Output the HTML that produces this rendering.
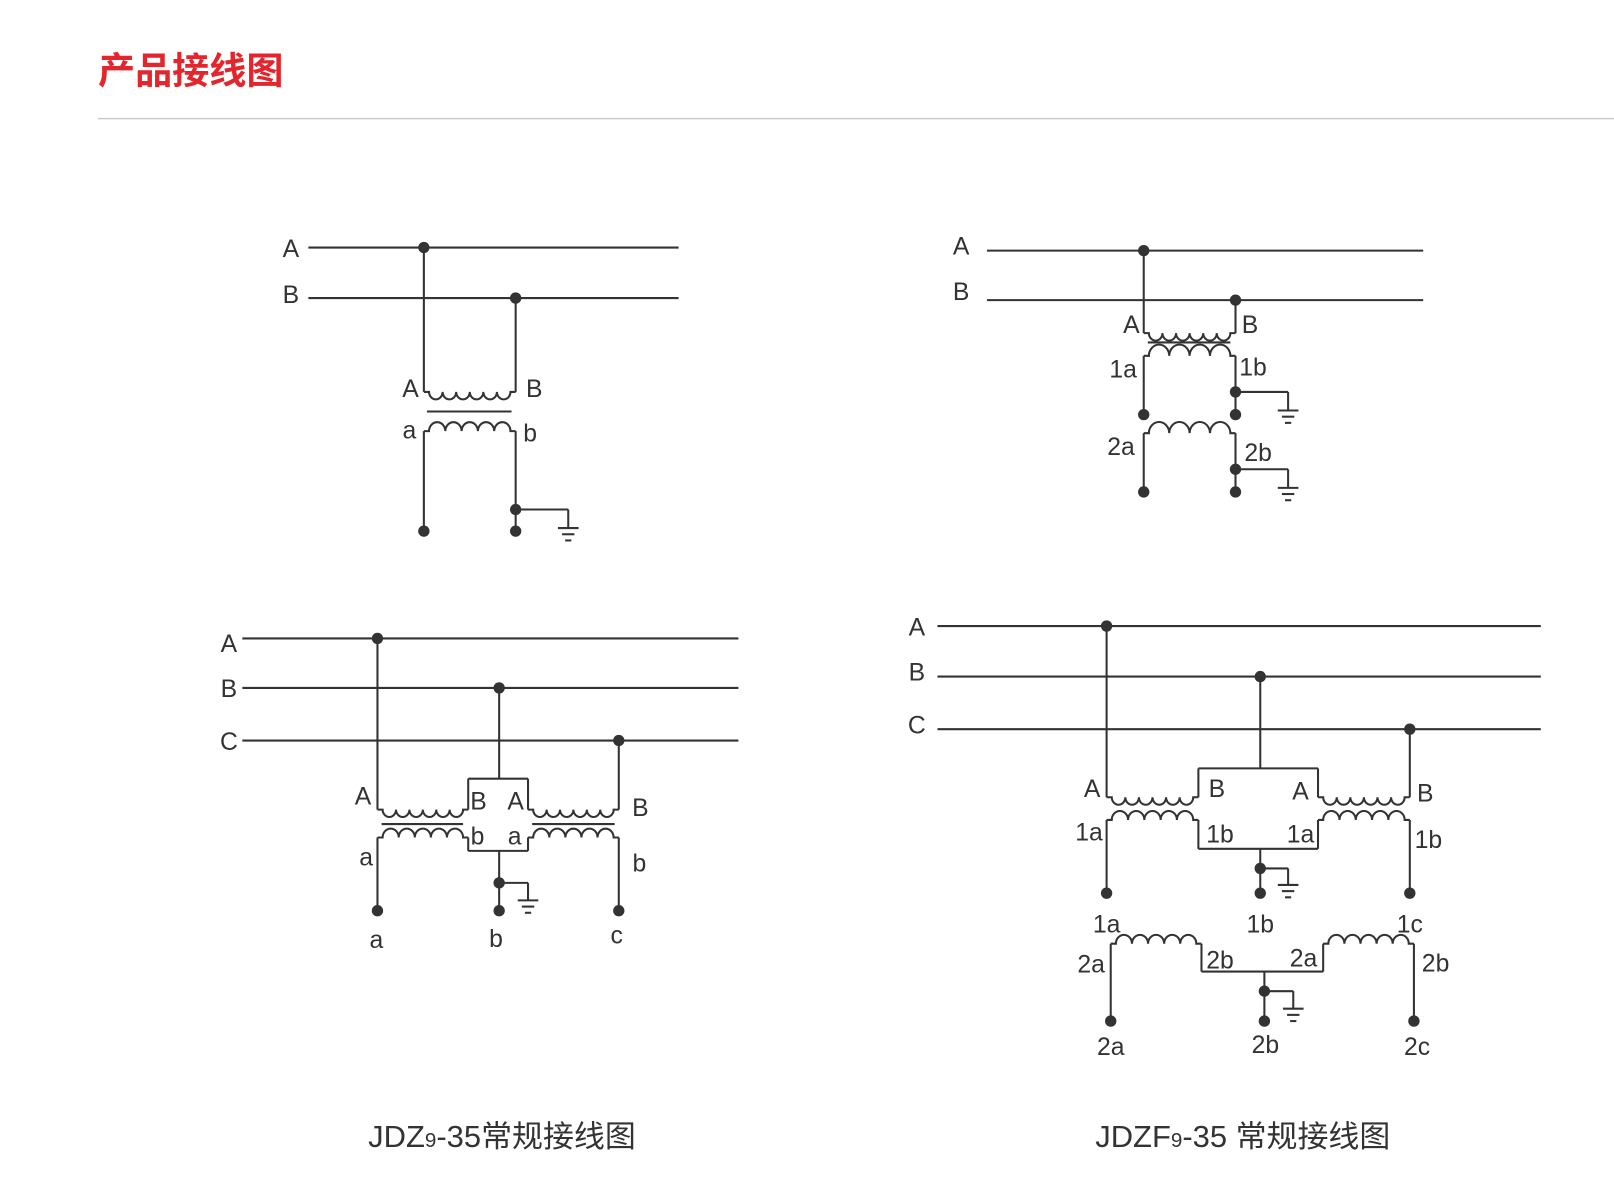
<!DOCTYPE html>
<html><head><meta charset="utf-8">
<style>
html,body{margin:0;padding:0;background:#fff;}
svg{display:block;}
text{font-family:"Liberation Sans","Noto Sans CJK SC",sans-serif;fill:#333;}
</style></head>
<body>
<svg id="s" width="1614" height="1183" viewBox="0 0 1565 1147" preserveAspectRatio="none" xmlns="http://www.w3.org/2000/svg">
<rect width="1565" height="1147" fill="#fff"/>
<text x="95" y="81" font-size="36" font-weight="bold" style="fill:#e3262e" font-family="Liberation Sans, Noto Sans CJK SC, sans-serif">产品接线图</text>
<line x1="95" y1="115" x2="1565" y2="115" stroke="#ccc" stroke-width="1.5"/>
<g id="g" stroke="#333" stroke-width="2" fill="none"></g>
<g id="t" font-size="24"></g>
<text x="357" y="1112" font-size="30">JDZ<tspan font-size="20">9</tspan>-35常规接线图</text>
<text x="1062" y="1112" font-size="30">JDZF<tspan font-size="20">9</tspan>-35 常规接线图</text>
</svg>
<script>
var g=document.getElementById('g'),t=document.getElementById('t'),NS='http://www.w3.org/2000/svg';
function P(d){var e=document.createElementNS(NS,'path');e.setAttribute('d',d);g.appendChild(e);}
function L(a,b,c,d){P('M'+a+' '+b+'L'+c+' '+d);}
function D(x,y){var e=document.createElementNS(NS,'circle');e.setAttribute('cx',x);e.setAttribute('cy',y);e.setAttribute('r',5.5);e.setAttribute('fill','#333');e.setAttribute('stroke','none');g.appendChild(e);}
function T(x,y,s){var e=document.createElementNS(NS,'text');e.setAttribute('x',x);e.setAttribute('y',y);e.setAttribute('text-anchor','middle');e.textContent=s;t.appendChild(e);}
function C(x1,x2,y,n,down){var s=x1+5,e=x2-5,w=(e-s)/n,r=w/2;var d='M'+x1+' '+y+'H'+s;for(var i=0;i<n;i++)d+='a'+r+' '+(r*1.1)+' 0 0 '+(down?0:1)+' '+w+' 0';d+='H'+x2;P(d);}
function G(x,y,x2,y2){L(x,y,x2,y);L(x2,y,x2,y2);L(x2-10,y2,x2+10,y2);L(x2-6,y2+6,x2+6,y2+6);L(x2-3,y2+12,x2+3,y2+12);}
// Diagram 1
L(299,240,658,240);L(299,289,658,289);T(282,249,'A');T(282,294,'B');
D(411,240);D(500,289);
L(411,240,411,380);L(500,289,500,380);C(411,500,380,6,true);
L(414,399,496,399);
C(411,500,418,5,false);L(411,418,411,515);L(500,418,500,515);D(411,515);D(500,515);D(500,494);G(500,494,551,512);
T(398,385,'A');T(518,385,'B');T(397,425,'a');T(514,428,'b');
// Diagram 2
L(957,243,1380,243);L(957,291,1380,291);T(932,247,'A');T(932,291,'B');
D(1109,243);D(1198,291);
L(1109,243,1109,323);L(1198,291,1198,323);C(1109,1198,323,6,true);L(1113,332,1193,332);
C(1109,1198,345,4,false);L(1109,345,1109,402);L(1198,345,1198,402);D(1109,402);D(1198,402);D(1198,380);G(1198,380,1249,398);
C(1109,1198,420,4,false);L(1109,420,1109,477);L(1198,420,1198,477);D(1109,477);D(1198,477);D(1198,455);G(1198,455,1249,473);
T(1097,323,'A');T(1212,323,'B');T(1089,366,'1a');T(1215,364,'1b');T(1087,441,'2a');T(1220,447,'2b');
// Diagram 3
L(235,619,716,619);L(235,667,716,667);L(235,718,716,718);
T(222,632,'A');T(222,676,'B');T(222,727,'C');
D(366,619);D(484,667);D(600,718);
L(366,619,366,785);C(366,454,785,6,true);L(454,785,454,755);L(454,755,512,755);L(484,667,484,755);L(512,755,512,785);C(512,600,785,6,true);L(600,718,600,785);
L(370,799,449,799);L(516,799,596,799);
C(366,454,812,5,false);L(366,812,366,883);L(454,812,454,825);L(454,825,512,825);L(512,812,512,825);C(512,600,812,5,false);L(600,812,600,883);
L(484,825,484,883);D(366,883);D(484,883);D(600,883);D(484,856);G(484,856,512,873);
T(352,780,'A');T(464,785,'B');T(500,785,'A');T(621,791,'B');T(355,839,'a');T(463,819,'b');T(499,819,'a');T(620,845,'b');
T(365,919,'a');T(481,918,'b');T(598,915,'c');
// Diagram 4
L(909,607,1494,607);L(909,656,1494,656);L(909,707,1494,707);
T(889,616,'A');T(889,660,'B');T(889,711,'C');
D(1073,607);D(1222,656);D(1367,707);
L(1073,607,1073,773);C(1073,1162,773,6,true);L(1162,773,1162,745);L(1162,745,1278,745);L(1222,656,1222,745);L(1278,745,1278,773);C(1278,1367,773,6,true);L(1367,707,1367,773);
C(1073,1162,795,5,false);L(1073,795,1073,866);L(1162,795,1162,823);L(1162,823,1278,823);L(1278,795,1278,823);C(1278,1367,795,5,false);L(1367,795,1367,866);
L(1222,823,1222,866);D(1073,866);D(1222,866);D(1367,866);D(1222,842);G(1222,842,1249,858);
C(1077,1165,915,5,false);L(1077,915,1077,990);L(1165,915,1165,942);L(1165,942,1283,942);L(1283,915,1283,942);C(1283,1371,915,5,false);L(1371,915,1371,990);
L(1226,942,1226,990);D(1077,990);D(1226,990);D(1371,990);D(1226,961);G(1226,961,1254,978);
T(1059,773,'A');T(1180,773,'B');T(1261,775,'A');T(1382,777,'B');
T(1056,815,'1a');T(1183,817,'1b');T(1261,817,'1a');T(1385,822,'1b');
T(1073,904,'1a');T(1222,904,'1b');T(1367,904,'1c');
T(1058,943,'2a');T(1183,939,'2b');T(1264,937,'2a');T(1392,942,'2b');
T(1077,1023,'2a');T(1227,1021,'2b');T(1374,1023,'2c');
</script>
</body></html>
